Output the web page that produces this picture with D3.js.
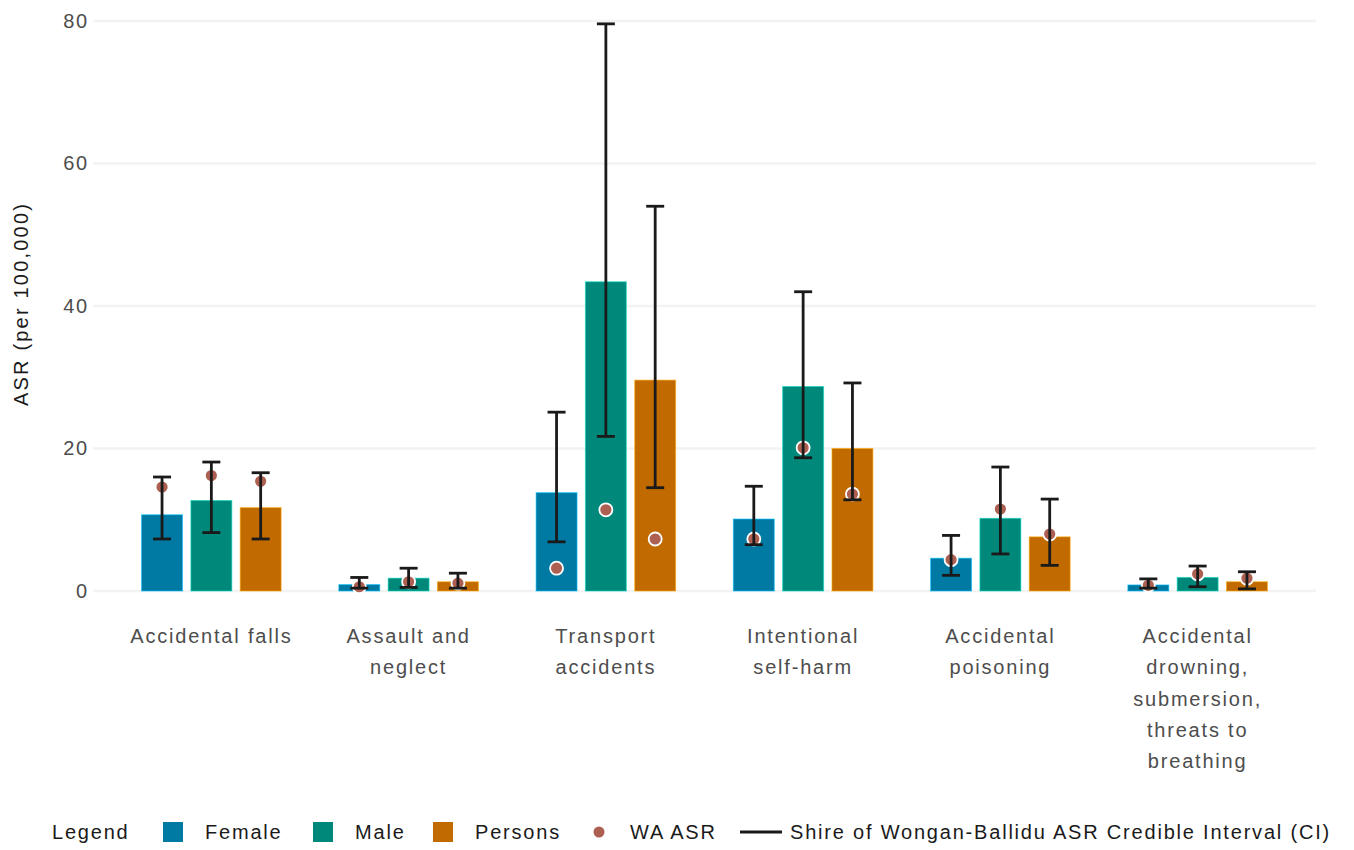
<!DOCTYPE html>
<html>
<head>
<meta charset="utf-8">
<script src="https://cdn.jsdelivr.net/npm/d3@7"></script>
<style>
  body { margin: 0; background: #fff; }
  svg text { font-family: "Liberation Sans", Arial, sans-serif; }
</style>
</head>
<body>
<svg id="chart" width="1354" height="850"></svg>
<script>
// Catégories et libellés (retour à la ligne comme sur l'original)
const categories = ["Accidental falls", "Assault and neglect", "Transport accidents",
  "Intentional self-harm", "Accidental poisoning",
  "Accidental drowning, submersion, threats to breathing"];
const categoryLines = [
  ["Accidental falls"],
  ["Assault and", "neglect"],
  ["Transport", "accidents"],
  ["Intentional", "self-harm"],
  ["Accidental", "poisoning"],
  ["Accidental", "drowning,", "submersion,", "threats to", "breathing"]
];
const sexes = ["Female", "Male", "Persons"];

// ASR de la Shire (barres)
const asrFemale  = [10.7, 0.9, 13.8, 10.1, 4.6, 0.85];
const asrMale    = [12.7, 1.8, 43.4, 28.7, 10.2, 1.9];
const asrPersons = [11.7, 1.3, 29.6, 20.0, 7.6, 1.3];

// Intervalles crédibles
const lowerFemale  = [7.3, 0.4, 6.9, 6.5, 2.2, 0.4];
const upperFemale  = [16.0, 1.9, 25.1, 14.7, 7.8, 1.7];
const lowerMale    = [8.2, 0.5, 21.7, 18.7, 5.2, 0.6];
const upperMale    = [18.1, 3.2, 79.6, 42.0, 17.4, 3.5];
const lowerPersons = [7.3, 0.4, 14.5, 12.8, 3.6, 0.3];
const upperPersons = [16.6, 2.5, 54.0, 29.2, 12.9, 2.7];

// ASR de WA (points)
const waFemale  = [14.6, 0.6, 3.2, 7.3, 4.4, 0.8];
const waMale    = [16.2, 1.3, 11.4, 20.1, 11.5, 2.4];
const waPersons = [15.4, 1.1, 7.3, 13.6, 8.0, 1.8];

const yTicks = [0, 20, 40, 60, 80];

const colors = { Female: "#0079a3", Male: "#00897a", Persons: "#c06a00" };
const dotColor = "#ad6052";

// Préparer les données
const series = {
  Female:  { asr: asrFemale,  lo: lowerFemale,  hi: upperFemale,  wa: waFemale },
  Male:    { asr: asrMale,    lo: lowerMale,    hi: upperMale,    wa: waMale },
  Persons: { asr: asrPersons, lo: lowerPersons, hi: upperPersons, wa: waPersons }
};
const data = [];
categories.forEach((cat, i) => {
  sexes.forEach(sex => {
    const s = series[sex];
    data.push({ cat, sex, asr: s.asr[i], lo: s.lo[i], hi: s.hi[i], wa: s.wa[i] });
  });
});

const svg = d3.select("#chart");
const plot = { left: 93, right: 1316, top: 21, bottom: 591 };

// Échelles
const x = d3.scaleBand()
  .domain(categories)
  .range([plot.left, plot.right])
  .paddingInner(0)
  .paddingOuter(0.1);

const xSub = d3.scaleBand()
  .domain(sexes)
  .range([x.bandwidth() * 0.125, x.bandwidth() * 0.875])
  .paddingInner(0.17)
  .paddingOuter(0.085);

const y = d3.scaleLinear()
  .domain([0, 80])
  .range([plot.bottom, plot.top]);

const fontSize = 20;
const spacing = "1.8px";

// Grille horizontale
svg.append("g")
  .selectAll("line")
  .data(yTicks)
  .enter()
  .append("line")
  .attr("x1", plot.left)
  .attr("x2", plot.right)
  .attr("y1", d => y(d))
  .attr("y2", d => y(d))
  .attr("stroke", "#f3f3f3")
  .attr("stroke-width", 2.5);

// Axe Y (sans ligne de domaine)
const yAxis = svg.append("g")
  .attr("transform", `translate(${plot.left},0)`)
  .call(d3.axisLeft(y).tickValues(yTicks).tickSize(0).tickPadding(4));
yAxis.select(".domain").remove();
yAxis.selectAll("text")
  .attr("fill", "#4d4d4d")
  .style("font-size", fontSize + "px")
  .style("letter-spacing", spacing)
  .style("font-family", "'Liberation Sans', Arial, sans-serif");

// Titre de l'axe Y
svg.append("text")
  .attr("transform", "rotate(-90)")
  .attr("x", -(plot.top + plot.bottom) / 2 + 2)
  .attr("y", 28)
  .attr("text-anchor", "middle")
  .attr("fill", "#1a1a1a")
  .style("font-size", "20px")
  .style("letter-spacing", "2.2px")
  .text("ASR (per 100,000)");

// Libellés de l'axe X
const xLabels = svg.append("g")
  .selectAll("text")
  .data(categories)
  .enter()
  .append("text")
  .attr("text-anchor", "middle")
  .attr("fill", "#4d4d4d")
  .style("font-size", fontSize + "px")
  .style("letter-spacing", spacing);
xLabels.each(function(d, i) {
  const cx = x(d) + x.bandwidth() / 2;
  d3.select(this).selectAll("tspan")
    .data(categoryLines[i])
    .enter()
    .append("tspan")
    .attr("x", cx)
    .attr("y", (l, j) => 643 + j * 31.3)
    .text(l => l);
});

// Barres
svg.append("g")
  .selectAll("rect")
  .data(data)
  .enter()
  .append("rect")
  .attr("x", d => x(d.cat) + xSub(d.sex))
  .attr("y", d => y(d.asr))
  .attr("width", xSub.bandwidth())
  .attr("height", d => y(0) - y(d.asr))
  .attr("fill", d => colors[d.sex])
  .attr("stroke", d => d3.color(colors[d.sex]).brighter(1.3))
  .attr("stroke-opacity", 0.6)
  .attr("stroke-width", 1);

// Points WA ASR
svg.append("g")
  .selectAll("circle")
  .data(data)
  .enter()
  .append("circle")
  .attr("cx", d => x(d.cat) + xSub(d.sex) + xSub.bandwidth() / 2)
  .attr("cy", d => y(d.wa))
  .attr("r", 6.5)
  .attr("fill", dotColor)
  .attr("stroke", "#fff")
  .attr("stroke-width", 1.8);

// Barres d'erreur (intervalle crédible)
const capW = 9;
const err = svg.append("g")
  .attr("stroke", "#1a1a1a")
  .attr("stroke-width", 2.8)
  .selectAll("g")
  .data(data)
  .enter()
  .append("g")
  .attr("transform", d => `translate(${x(d.cat) + xSub(d.sex) + xSub.bandwidth() / 2},0)`);
err.append("line")
  .attr("x1", 0).attr("x2", 0)
  .attr("y1", d => y(d.lo)).attr("y2", d => y(d.hi));
err.append("line")
  .attr("x1", -capW).attr("x2", capW)
  .attr("y1", d => y(d.hi)).attr("y2", d => y(d.hi));
err.append("line")
  .attr("x1", -capW).attr("x2", capW)
  .attr("y1", d => y(d.lo)).attr("y2", d => y(d.lo));

// Légende
const legendY = 832;
const legend = svg.append("g").attr("class", "legend")
  .style("font-size", fontSize + "px")
  .style("letter-spacing", spacing);

legend.append("text")
  .attr("x", 52).attr("y", legendY).attr("dy", "0.35em")
  .attr("fill", "#1a1a1a")
  .text("Legend");

const legendBars = [
  { key: "Female", x: 163 },
  { key: "Male", x: 313 },
  { key: "Persons", x: 433 }
];
legendBars.forEach(item => {
  legend.append("rect")
    .attr("x", item.x).attr("y", legendY - 10)
    .attr("width", 20).attr("height", 20)
    .attr("fill", colors[item.key]);
  legend.append("text")
    .attr("x", item.x + 42).attr("y", legendY).attr("dy", "0.35em")
    .attr("fill", "#1a1a1a")
    .text(item.key);
});

legend.append("circle")
  .attr("cx", 599).attr("cy", legendY)
  .attr("r", 5.5)
  .attr("fill", dotColor);
legend.append("text")
  .attr("x", 630).attr("y", legendY).attr("dy", "0.35em")
  .attr("fill", "#1a1a1a")
  .text("WA ASR");

legend.append("line")
  .attr("x1", 740).attr("x2", 782)
  .attr("y1", legendY).attr("y2", legendY)
  .attr("stroke", "#1a1a1a")
  .attr("stroke-width", 2.8);
legend.append("text")
  .attr("x", 790).attr("y", legendY).attr("dy", "0.35em")
  .attr("fill", "#1a1a1a")
  .text("Shire of Wongan-Ballidu ASR Credible Interval (CI)");
</script>
</body>
</html>
